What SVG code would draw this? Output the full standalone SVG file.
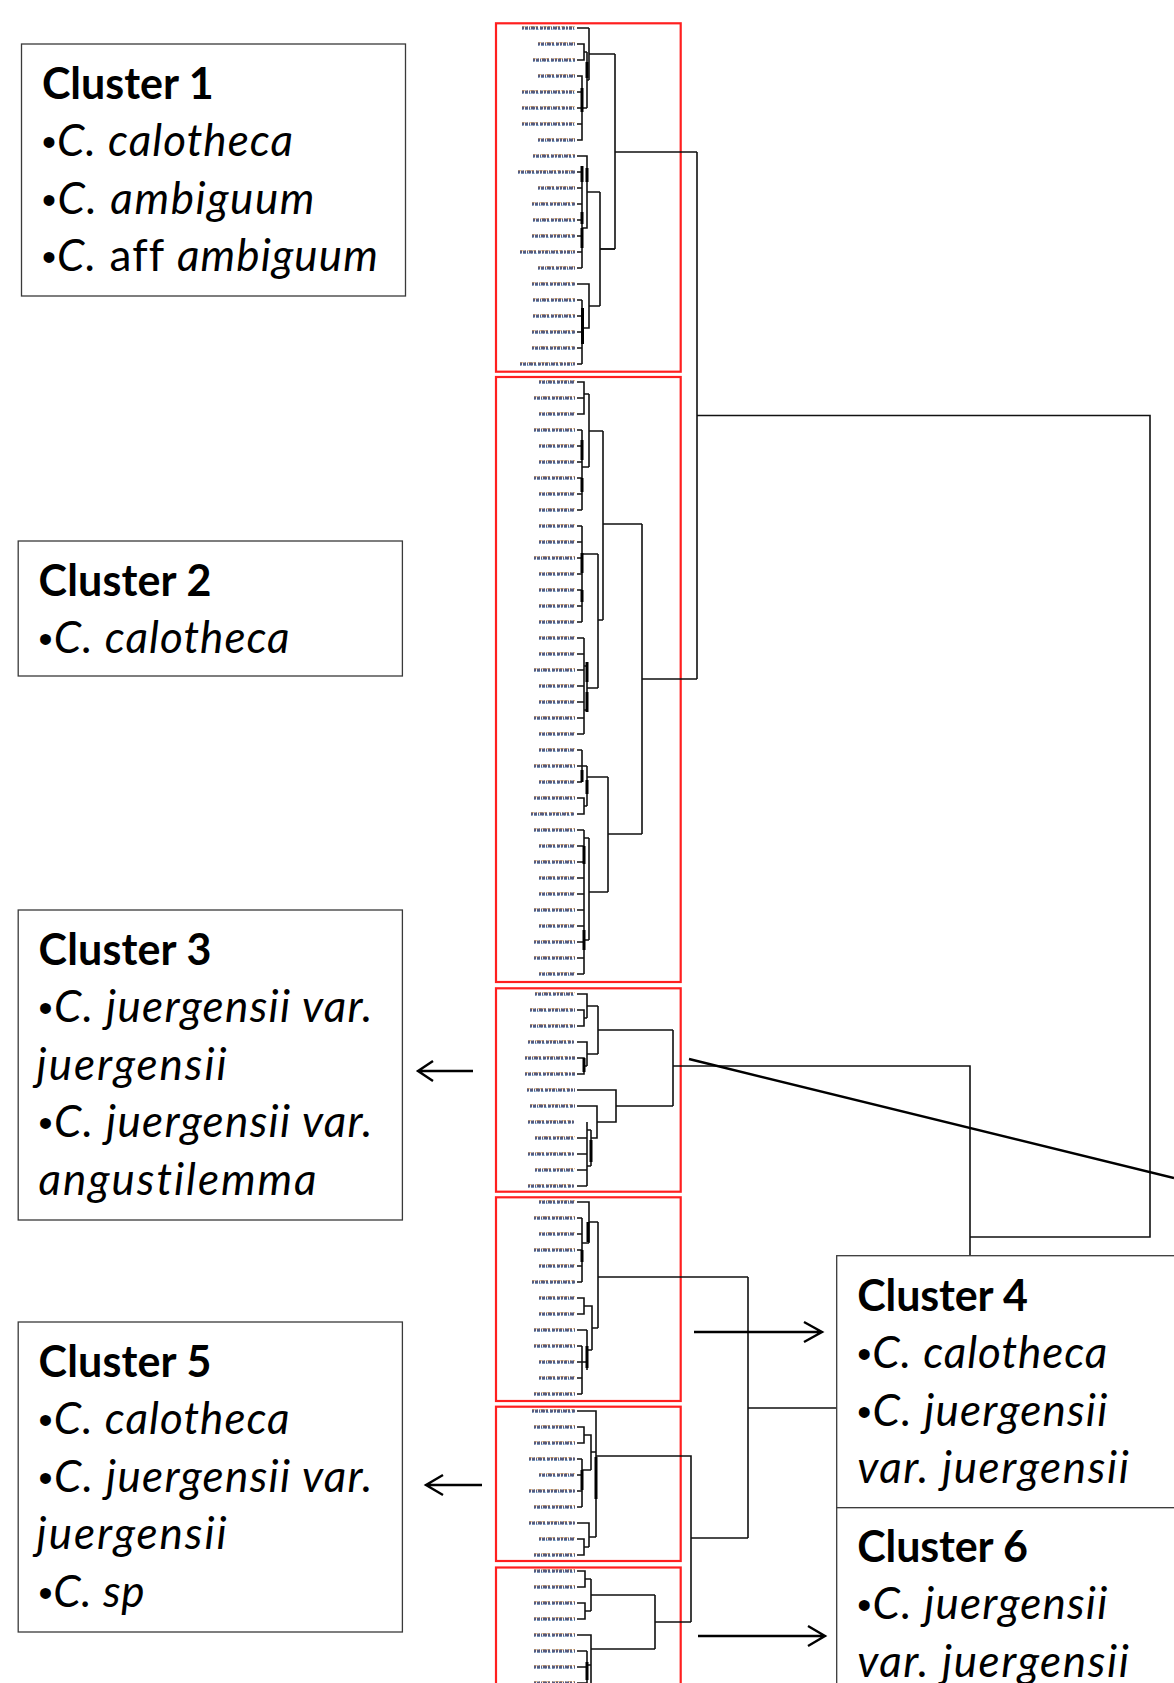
<svg xmlns="http://www.w3.org/2000/svg" xmlns:xlink="http://www.w3.org/1999/xlink" width="1174" height="1683" viewBox="0 0 1174 1683">
<style>
.box{fill:#fff;stroke:#3a3a3a;stroke-width:1.3}
.red{fill:none;stroke:#ff1f1f;stroke-width:2.2}
.dl{fill:none;stroke:#111;stroke-width:1.6}
.bar{fill:#000}
.arr{fill:none;stroke:#000;stroke-width:2.4;stroke-linecap:butt}
.t{font-family:Lato,"Liberation Sans",sans-serif;font-size:44px;fill:#000;font-variant-ligatures:none;font-feature-settings:"liga" 0,"dlig" 0}
.b{font-weight:bold;font-size:43px}
.i{font-style:italic}
.bu{font-family:"Liberation Sans",Arial,sans-serif;font-size:40px}
.lbA{fill:none;stroke:#2e3560;stroke-width:3;stroke-dasharray:2 1 3 1 1 1 4 1 2 2 3 1;opacity:.8}
.lbB{fill:none;stroke:#e9a24a;stroke-width:1.3;stroke-dasharray:3 2 1 2 4 1;opacity:.65}
.lbC{fill:none;stroke:#4aa0e0;stroke-width:1.2;stroke-dasharray:1 2 3 1 2 2;opacity:.5}
</style>
<defs>
<path id="lbls" d="M522 28h53M538 44h37M533 60h42M538 76h37M522 92h53M522 108h53M522 124h53M538 140h37M533 156h42M518 172h57M538 188h37M532 204h43M533 220h42M532 236h43M520 252h55M538 268h37M532 284h43M533 300h42M533 316h42M532 332h43M532 348h43M520 364h55
M539 382h36M534 398h41M539 414h36M534 430h41M539 446h36M539 462h36M534 478h41M539 494h36M539 510h36M539 526h36M539 542h36M534 558h41M539 574h36M539 590h36M539 606h36M539 622h36M539 638h36M539 654h36M534 670h41M539 686h36M539 702h36M534 718h41M539 734h36M539 750h36M534 766h41M539 782h36M534 798h41M531 814h44M534 830h41M539 846h36M534 862h41M539 878h36M539 894h36M534 910h41M539 926h36M534 942h41M534 958h41M539 974h36
M535 994h40M530 1010h45M530 1026h45M528 1042h47M525 1058h50M525 1074h50M527 1090h48M530 1106h45M528 1122h47M535 1138h40M528 1154h47M535 1170h40M528 1186h47
M539 1202h36M534 1218h41M539 1234h36M534 1250h41M539 1266h36M532 1282h43M539 1298h36M539 1314h36M534 1330h41M534 1346h41M539 1362h36M539 1378h36M534 1394h41
M532 1411h43M534 1427h41M534 1443h41M529 1459h46M539 1475h36M529 1491h46M534 1507h41M529 1523h46M539 1539h36M534 1555h41
M534 1571h41M534 1587h41M534 1603h41M534 1619h41M534 1635h41M534 1651h41M534 1667h41M534 1683h41"/>
</defs>

<g id="leaf-labels">
<use href="#lbls" xlink:href="#lbls" class="lbB" transform="translate(0,-1.3)"/>
<use href="#lbls" xlink:href="#lbls" class="lbC" transform="translate(0,1.3)"/>
<use href="#lbls" xlink:href="#lbls" class="lbA"/>
</g>

<g id="tree-cluster1">
<rect class="red" x="496" y="23.3" width="184.7" height="348.4"/>
<path class="dl" d="M577 28H589M577 44H584V60H577M584 52H587M577 76H582V140H577M577 92H582M577 108H582M577 124H582M582 108H587M587 52V108M587 80H589M589 28V80M589 54H615
M577 156H587V228H582M582 172V268M577 172H582M577 188H582M577 204H582M577 220H582M577 236H582M577 252H582M577 268H582M587 192H600
M577 284H589V328H582M582 300V364M577 300H582M577 316H582M577 332H582M577 348H582M577 364H582M589 306H600
M600 192V306M600 249H615M615 54V249"/>
<rect class="bar" x="580.5" y="88" width="3" height="24"/>
<rect class="bar" x="585.5" y="62" width="3" height="16"/>
<rect class="bar" x="580.5" y="166" width="3" height="16"/>
<rect class="bar" x="585.5" y="168" width="3" height="14"/>
<rect class="bar" x="580.5" y="212" width="3" height="12"/>
<rect class="bar" x="580.5" y="228" width="3" height="20"/>
<rect class="bar" x="581" y="308" width="3" height="36"/>
</g>

<g id="tree-cluster2">
<rect class="red" x="496" y="377" width="184.7" height="605"/>
<path class="dl" d="M577 382H584V414H577M577 398H584M584 394H589M589 394V467M589 431H603
M582 430V510M577 430H582M577 446H582M577 462H582M577 478H582M577 494H582M577 510H582M582 467H589
M582 526V622M577 526H582M577 542H582M577 558H582M577 574H582M577 590H582M577 606H582M577 622H582M582 554H598
M584 638V734M577 638H584M577 654H584M577 670H584M577 686H584M577 702H584M577 718H584M577 734H584M584 666H587V710H584M587 688H598
M598 554V688M598 620H603M603 431V620M603 524H642
M582 750V782M577 750H582M577 766H582M577 782H582M582 766H587M577 798H584V814H577M584 806H587M587 766V806M587 777H608
M584 830V974M577 830H584M577 846H584M577 862H584M577 878H584M577 894H584M577 910H584M577 926H584M577 942H584M577 958H584M577 974H584M584 838H589M584 940H589M589 838V940M589 892H608
M608 777V892M608 834H642M642 524V834"/>
<rect class="bar" x="580.5" y="440" width="3" height="20"/>
<rect class="bar" x="580.5" y="478" width="3" height="14"/>
<rect class="bar" x="580.5" y="553" width="3" height="20"/>
<rect class="bar" x="580.5" y="590" width="3" height="12"/>
<rect class="bar" x="585.5" y="662" width="3" height="20"/>
<rect class="bar" x="585.5" y="692" width="3" height="20"/>
<rect class="bar" x="580.5" y="770" width="3" height="12"/>
<rect class="bar" x="585.5" y="780" width="3" height="14"/>
<rect class="bar" x="582.5" y="846" width="3" height="18"/>
<rect class="bar" x="582.5" y="930" width="3" height="20"/>
</g>

<g id="tree-cluster3">
<rect class="red" x="496" y="988.3" width="184.7" height="203.4"/>
<path class="dl" d="M577 994H587V1018M577 1010H584V1026H577M584 1018H587M587 1006H598
M577 1042H587V1066M577 1058H584V1074H577M584 1066H587M587 1054H598M598 1006V1054M598 1030H673
M577 1090H616V1122H597M577 1106H597V1138H591M591 1130V1166M587 1122V1186M577 1138H587M577 1154H587M577 1170H587M577 1186H587M587 1130H591M587 1166H591
M616 1106H673M673 1030V1106"/>
<rect class="bar" x="582.5" y="1058" width="3" height="14"/>
<rect class="bar" x="589.5" y="1140" width="3" height="22"/>
</g>

<g id="tree-cluster4">
<rect class="red" x="496" y="1197.3" width="184.7" height="203.7"/>
<path class="dl" d="M577 1202H589V1243M582 1218V1282M577 1218H582M577 1234H582M577 1250H582M577 1266H582M577 1282H582M582 1243H589M589 1222H598
M577 1298H584V1314H577M584 1306H592V1350M587 1330V1370M577 1330H587M582 1346V1394M577 1346H582M577 1362H582M577 1378H582M577 1394H582M582 1362H587M587 1350H592M592 1328H598
M598 1222V1328"/>
<rect class="bar" x="586.5" y="1222" width="3" height="20"/>
<rect class="bar" x="580.5" y="1250" width="3" height="12"/>
<rect class="bar" x="585.5" y="1346" width="3" height="22"/>
</g>

<g id="tree-cluster5">
<rect class="red" x="496" y="1406.7" width="184.7" height="154.3"/>
<path class="dl" d="M577 1411H596V1537M577 1427H584V1443H577M584 1435H591V1470M591 1452H596
M582 1459V1507M577 1459H582M577 1475H582M577 1491H582M577 1507H582M582 1470H591
M577 1523H589V1547M577 1539H584V1555H577M584 1547H589M589 1537H596"/>
<rect class="bar" x="594.5" y="1457" width="3" height="42"/>
<rect class="bar" x="580.5" y="1470" width="3" height="20"/>
</g>

<g id="tree-cluster6">
<rect class="red" x="496" y="1567.5" width="184.7" height="130"/>
<path class="dl" d="M577 1571H585V1587H577M585 1579H591M577 1603H585V1619H577M585 1611H591M591 1579V1611M591 1595H655
M577 1635H591V1690M587 1651V1690M577 1651H587M577 1667H587M577 1683H587M587 1665H591
M591 1649H655M655 1595V1649"/>
<rect class="bar" x="585.5" y="1662" width="3" height="18"/>
</g>

<g id="connectors">
<path class="dl" d="M615 152H697M600 249H615M697 152V679M642 679H697M697 415.5H1150V1237H970M673 1066H970V1256
M598 1277H748M596 1456H691V1622M655 1622H691M691 1538H748M748 1277V1538M748 1408H837"/>
<path class="arr" d="M689 1059L1174 1178"/>
<path class="arr" d="M473 1071H419M433 1061L418 1071L433 1081"/>
<path class="arr" d="M482 1485H427M443 1475L426 1485L443 1495"/>
<path class="arr" d="M694 1332H821M804 1322L822 1332L804 1342"/>
<path class="arr" d="M698 1636H824M808 1626L825 1636L808 1646"/>
</g>

<g id="cluster1">
<rect class="box" x="21.5" y="44" width="384" height="252"/>
<text class="t b" x="41.9" y="98.7" textLength="171.7">Cluster 1</text>
<text class="t" x="41.9" y="156.2" textLength="251"><tspan class="bu">•</tspan><tspan class="i">C. calotheca</tspan></text>
<text class="t" x="41.9" y="213.7" textLength="272.6"><tspan class="bu">•</tspan><tspan class="i">C. ambiguum</tspan></text>
<text class="t" x="41.9" y="271.2" textLength="336"><tspan class="bu">•</tspan><tspan class="i">C.</tspan> aff <tspan class="i">ambiguum</tspan></text>
</g>

<g id="cluster2">
<rect class="box" x="18.2" y="541" width="384.2" height="135"/>
<text class="t b" x="38.6" y="595.6" textLength="172.8">Cluster 2</text>
<text class="t" x="38.6" y="653.1" textLength="251"><tspan class="bu">•</tspan><tspan class="i">C. calotheca</tspan></text>
</g>

<g id="cluster3">
<rect class="box" x="18.2" y="910" width="384.2" height="310"/>
<text class="t b" x="38.6" y="964.7" textLength="172.8">Cluster 3</text>
<text class="t" x="38.6" y="1022.2" textLength="333.7"><tspan class="bu">•</tspan><tspan class="i">C. juergensii var.</tspan></text>
<text class="t i" x="36.6" y="1079.7" textLength="190">juergensii</text>
<text class="t" x="38.6" y="1137.2" textLength="333.7"><tspan class="bu">•</tspan><tspan class="i">C. juergensii var.</tspan></text>
<text class="t i" x="38.6" y="1194.7" textLength="278">angustilemma</text>
</g>

<g id="cluster5">
<rect class="box" x="18.2" y="1322" width="384.2" height="310"/>
<text class="t b" x="38.6" y="1376.8" textLength="172.8">Cluster 5</text>
<text class="t" x="38.6" y="1434.3" textLength="251"><tspan class="bu">•</tspan><tspan class="i">C. calotheca</tspan></text>
<text class="t" x="38.6" y="1491.8" textLength="333.7"><tspan class="bu">•</tspan><tspan class="i">C. juergensii var.</tspan></text>
<text class="t i" x="36.6" y="1549.3" textLength="190">juergensii</text>
<text class="t" x="38.6" y="1606.8" textLength="106"><tspan class="bu">•</tspan><tspan class="i">C. sp</tspan></text>
</g>

<g id="cluster4">
<rect class="box" x="836.7" y="1255.7" width="400" height="252"/>
<text class="t b" x="857.3" y="1310.7" textLength="170.6">Cluster 4</text>
<text class="t" x="857.3" y="1368.2" textLength="250"><tspan class="bu">•</tspan><tspan class="i">C. calotheca</tspan></text>
<text class="t" x="857.3" y="1425.7" textLength="250"><tspan class="bu">•</tspan><tspan class="i">C. juergensii</tspan></text>
<text class="t i" x="857.3" y="1483.2" textLength="271.5">var. juergensii</text>
</g>

<g id="cluster6">
<rect class="box" x="836.7" y="1507.7" width="400" height="200"/>
<text class="t b" x="857.3" y="1561.7" textLength="170.6">Cluster 6</text>
<text class="t" x="857.3" y="1619.2" textLength="250"><tspan class="bu">•</tspan><tspan class="i">C. juergensii</tspan></text>
<text class="t i" x="857.3" y="1676.7" textLength="271.5">var. juergensii</text>
</g>
</svg>
